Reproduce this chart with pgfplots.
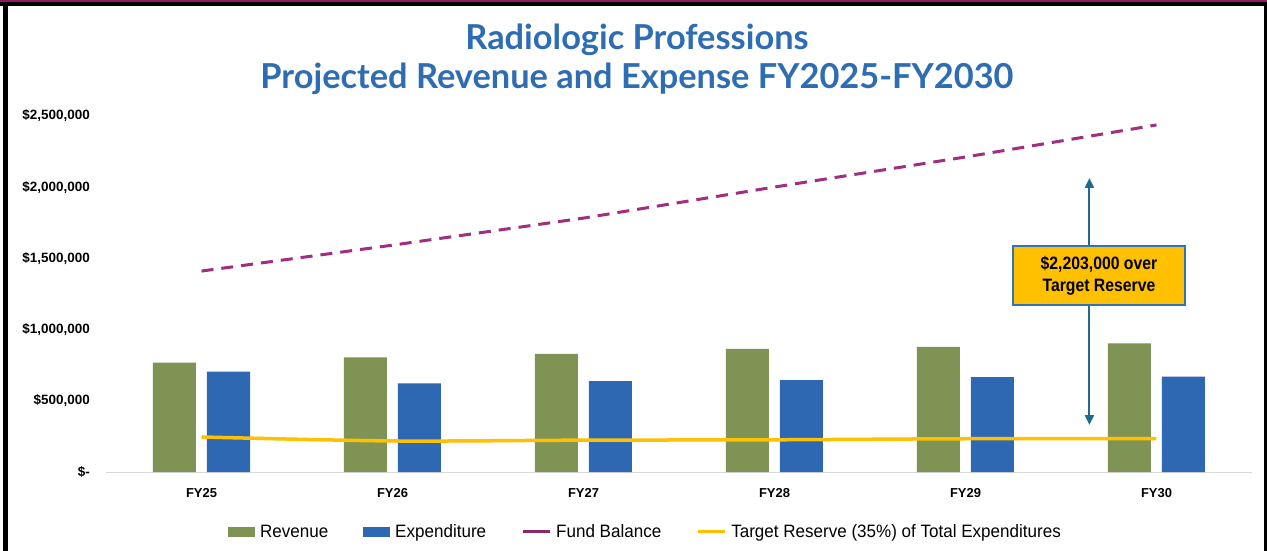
\documentclass[border=0pt]{standalone}
\usepackage{pgfplots}
\pgfplotsset{compat=1.18}
\usepackage{fontspec}
\usetikzlibrary{arrows.meta}
\setmainfont{Liberation Sans}
\newfontfamily\titlefont{Lato}
\newfontfamily\legendfont[FakeStretch=0.95]{Liberation Sans}
\newfontfamily\boxfont[FakeStretch=0.88]{Liberation Sans}
\definecolor{titleblue}{HTML}{2E6DB4}
\definecolor{revgreen}{HTML}{7F9454}
\definecolor{expblue}{HTML}{2E68B3}
\definecolor{fundpurple}{HTML}{A0307F}
\definecolor{targetyellow}{HTML}{FFC000}
\definecolor{arrowteal}{HTML}{1F6B8C}
\definecolor{boxborder}{HTML}{2E75B6}
\definecolor{axisgray}{HTML}{D9D9D9}
\definecolor{bordermaroon}{HTML}{8C1D5E}
\begin{document}
\begin{tikzpicture}
\path[use as bounding box, fill=white] (0bp,0bp) rectangle (1267bp,551bp);
% frame
\fill[bordermaroon] (0bp,549bp) rectangle (1267bp,551bp);
\fill[black] (0bp,545bp) rectangle (1267bp,549bp);
\fill[black] (3bp,0bp) rectangle (8bp,545bp);
\fill[black] (1264bp,0bp) rectangle (1267bp,545bp);
% title
\node[font=\titlefont\bfseries\fontsize{34.5}{40}\selectfont, text=titleblue, anchor=base] at (637bp,501bp) {Radiologic Professions};
\node[font=\titlefont\bfseries\fontsize{34.5}{40}\selectfont, text=titleblue, anchor=base] at (637bp,462bp) {Projected Revenue and Expense FY2025-FY2030};
\begin{axis}[
  at={(106bp,79bp)}, anchor=south west,
  scale only axis, width=1146bp, height=356bp,
  xmin=-0.5, xmax=5.5, ymin=0, ymax=2500000,
  axis x line*=bottom, axis y line*=left,
  x axis line style={draw=axisgray, line width=1bp},
  y axis line style={draw=none},
  xtick={0,1,2,3,4,5},
  xticklabels={FY25,FY26,FY27,FY28,FY29,FY30},
  ytick={0,500000,1000000,1500000,2000000,2500000},
  yticklabels={{\$-},{\$500,000},{\$1,000,000},{\$1,500,000},{\$2,000,000},{\$2,500,000}},
  scaled y ticks=false,
  tick style={draw=none},
  xticklabel style={font=\fontsize{13}{14}\selectfont\bfseries, inner sep=0pt, anchor=north, yshift=-16bp},
  yticklabel style={font=\fontsize{13.5}{15}\selectfont\bfseries, inner sep=0pt, anchor=east, xshift=-16bp},
  clip=false,
  legend columns=4,
  legend style={at={(0.1065,-0.1685)}, anchor=west, draw=none, fill=none,
    inner sep=0pt, outer sep=0pt, font=\legendfont\fontsize{18}{20}\selectfont,
    nodes={inner sep=0pt},
    /tikz/every odd column/.append style={column sep=5bp},
    /tikz/every even column/.append style={column sep=35bp}},
]
\addplot[ybar, bar width=43bp, bar shift=-27bp, fill=revgreen, draw=none,
  legend image code/.code={\fill[revgreen] (0bp,-5bp) rectangle (27bp,5bp);}]
  coordinates {(0,768000) (1,805000) (2,829000) (3,864000) (4,878000) (5,904000)};
\addlegendentry{Revenue}
\addplot[ybar, bar width=43bp, bar shift=27bp, fill=expblue, draw=none,
  legend image code/.code={\fill[expblue] (0bp,-5bp) rectangle (27bp,5bp);}]
  coordinates {(0,704000) (1,623000) (2,639000) (3,646000) (4,667000) (5,669000)};
\addlegendentry{Expenditure}
\addplot[sharp plot, no markers, color=fundpurple, line width=3bp, dash pattern=on 12bp off 8bp,
  legend image code/.code={\draw[solid, fundpurple!85!black, line width=3bp] (0bp,0bp) -- (27bp,0bp);}]
  coordinates {(0,1411000) (1,1593000) (2,1783000) (3,2001000) (4,2212000) (5,2437000)};
\addlegendentry{Fund Balance}
\addplot[smooth, no markers, color=targetyellow, line width=3.5bp,
  legend image code/.code={\draw[solid, targetyellow, line width=3bp] (0bp,0bp) -- (27bp,0bp);}]
  coordinates {(0,246000) (1,218000) (2,223700) (3,226100) (4,233500) (5,234000)};
\addlegendentry{Target Reserve (35\%) of Total Expenditures}
% annotation
\draw[arrowteal, line width=2bp, {Triangle[length=10bp,width=9bp]}-{Triangle[length=10bp,width=9bp]}]
  (axis cs:4.649,330000) -- (axis cs:4.649,2064600);
\node[fill=targetyellow, draw=boxborder, line width=1.5bp, minimum width=172bp, minimum height=59bp,
  inner sep=0pt, align=center, font=\boxfont\bfseries\fontsize{18}{22}\selectfont]
  at (axis cs:4.699,1379900) {\$2,203,000 over\\Target Reserve};
\end{axis}
\end{tikzpicture}
\end{document}
